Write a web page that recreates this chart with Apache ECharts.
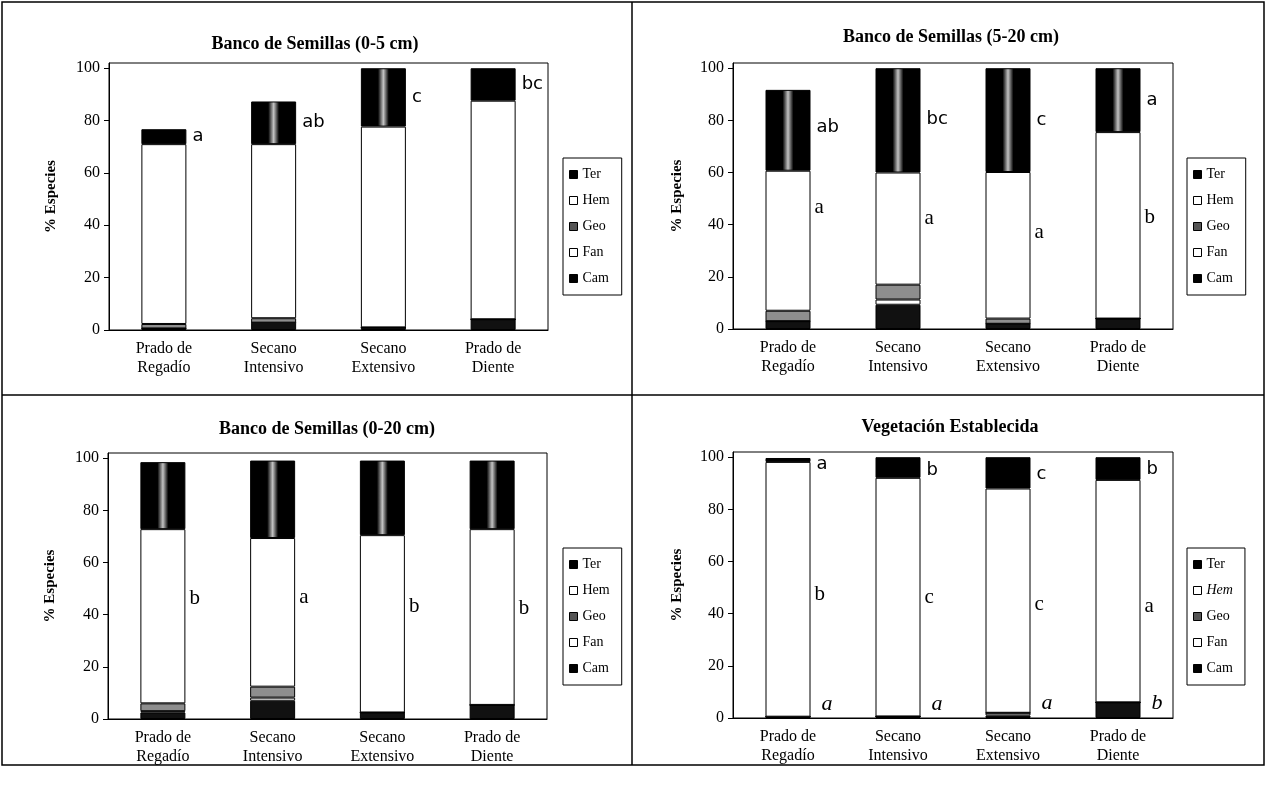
<!DOCTYPE html>
<html>
<head>
<meta charset="utf-8">
<script src="https://cdn.jsdelivr.net/npm/echarts@6.0.0/dist/echarts.min.js"></script>
<style>
html, body { margin: 0; padding: 0; background: #fff; }
#chart { width: 1266px; height: 786px; }
</style>
</head>
<body>
<div id="chart"></div>
<script>
// categorias y ejes
const categories = ['Prado de\nRegadío', 'Secano\nIntensivo', 'Secano\nExtensivo', 'Prado de\nDiente'];
const yTicks = [0, 20, 40, 60, 80, 100];
const lifeForms = ['Cam', 'Fan', 'Geo', 'Hem', 'Ter'];      // orden de apilado, de abajo arriba
const legendNames = ['Ter', 'Hem', 'Geo', 'Fan', 'Cam'];
const panelTitles = ['Banco de Semillas (0-5 cm)', 'Banco de Semillas (5-20 cm)',
                     'Banco de Semillas (0-20 cm)', 'Vegetación Establecida'];

// Banco de semillas 0-5 cm
const cam05 = [0.6, 2.8, 1.0, 4.1];
const fan05 = [0, 0, 0, 0];
const geo05 = [1.7, 1.7, 0, 0];
const hem05 = [68.7, 66.5, 76.7, 83.5];
const ter05 = [5.7, 16.3, 22.3, 12.4];

// Banco de semillas 5-20 cm
const cam520 = [3.0, 9.3, 2.0, 4.0];
const fan520 = [0, 2.0, 0, 0];
const geo520 = [4.0, 5.7, 2.0, 0];
const hem520 = [53.7, 43.0, 56.2, 71.5];
const ter520 = [31.0, 40.0, 39.8, 24.5];

// Banco de semillas 0-20 cm
const cam020 = [2.5, 7.0, 2.5, 5.4];
const fan020 = [0.5, 1.2, 0, 0];
const geo020 = [3.0, 4.2, 0, 0];
const hem020 = [66.8, 57.0, 68.0, 67.4];
const ter020 = [25.7, 29.7, 28.6, 26.3];

// Vegetacion establecida
const camVeg = [0.5, 0.6, 1.0, 6.0];
const fanVeg = [0, 0, 1.0, 0];
const geoVeg = [0, 0, 0, 0];
const hemVeg = [97.7, 91.5, 86.0, 85.3];
const terVeg = [1.5, 7.9, 12.0, 8.7];

// letras de significacion
const terLetters05 = ['a', 'ab', 'c', 'bc'];
const terLetters520 = ['ab', 'bc', 'c', 'a'];
const hemLetters520 = ['a', 'a', 'a', 'b'];
const hemLetters020 = ['b', 'a', 'b', 'b'];
const terLettersVeg = ['a', 'b', 'c', 'b'];
const hemLettersVeg = ['b', 'c', 'c', 'a'];
const camLettersVeg = ['a', 'a', 'a', 'b'];

const panelData = [
  { Cam: cam05, Fan: fan05, Geo: geo05, Hem: hem05, Ter: ter05 },
  { Cam: cam520, Fan: fan520, Geo: geo520, Hem: hem520, Ter: ter520 },
  { Cam: cam020, Fan: fan020, Geo: geo020, Hem: hem020, Ter: ter020 },
  { Cam: camVeg, Fan: fanVeg, Geo: geoVeg, Hem: hemVeg, Ter: terVeg }
];
const panelLetters = [
  { Ter: terLetters05 },
  { Ter: terLetters520, Hem: hemLetters520 },
  { Hem: hemLetters020 },
  { Ter: terLettersVeg, Hem: hemLettersVeg, Cam: camLettersVeg }
];

// disposicion de cada panel (shift = ajuste vertical de las letras, px)
const layout = [
  { grid: { left: 109, top: 63, width: 439, height: 267 }, title: [310, 30], legend: [563, 158], nameGap: 50,
    shift: { Ter: 0 } },
  { grid: { left: 733, top: 63, width: 440, height: 266 }, title: [946, 23], legend: [1187, 158], nameGap: 48,
    shift: { Ter: [-3, -1, 0, 0], Hem: [-33, -10, -13, -8] } },
  { grid: { left: 108, top: 453, width: 439, height: 266 }, title: [322, 415], legend: [563, 548], nameGap: 50,
    shift: { Hem: [-18, -15, -17, -9] } },
  { grid: { left: 733, top: 452, width: 440, height: 266 }, title: [945, 413], legend: [1187, 548], nameGap: 48,
    shift: { Ter: [4, 3, 1, 1], Hem: [5, 0, 4, 15], Cam: [-13, -13, -13, -7] } }
];

const serif = 'Liberation Serif, Times New Roman, serif';
const fills = { Cam: '#111', Fan: '#fff', Geo: '#8e8e8e', Hem: '#fff', Ter: '#000' };
const legendFills = { Ter: '#000', Hem: '#fff', Geo: '#555', Fan: '#fff', Cam: '#000' };
const terStreak = {
  type: 'linear', x: 0, y: 0, x2: 1, y2: 0,
  colorStops: [
    { offset: 0, color: '#000' }, { offset: 0.38, color: '#000' },
    { offset: 0.5, color: '#c4c4c4' },
    { offset: 0.62, color: '#000' }, { offset: 1, color: '#000' }
  ]
};
const letterStyle = {
  Ter: { fontFamily: 'DejaVu Sans', fontSize: 18, distance: 6 },
  Hem: { fontFamily: serif, fontSize: 21, distance: 4 },
  Cam: { fontFamily: serif, fontSize: 22, fontStyle: 'italic', distance: 11 }
};

function shiftOf (p, name, j) {
  const s = p.shift[name];
  if (Array.isArray(s)) return s[j];
  return s || 0;
}

const grids = [], xAxes = [], yAxes = [], titles = [], legends = [], series = [];

layout.forEach((p, i) => {
  grids.push(Object.assign({ show: true, borderColor: '#000', borderWidth: 1, backgroundColor: '#fff' }, p.grid));
  titles.push({
    text: panelTitles[i], left: p.title[0], top: p.title[1], textAlign: 'center',
    textStyle: { fontFamily: serif, fontSize: 18, fontWeight: 'bold', color: '#000' }
  });
  xAxes.push({
    type: 'category', gridIndex: i, data: categories,
    axisLine: { lineStyle: { color: '#000', width: 1 } },
    axisTick: { length: 5, lineStyle: { color: '#000' } },
    axisLabel: { interval: 0, color: '#000', fontFamily: serif, fontSize: 16, lineHeight: 19, margin: 9 }
  });
  yAxes.push({
    type: 'value', gridIndex: i, min: 0, max: 102,
    name: '% Especies', nameLocation: 'middle', nameRotate: 90, nameGap: p.nameGap,
    nameTextStyle: { fontFamily: serif, fontSize: 15, fontWeight: 'bold', color: '#000' },
    axisLine: { show: true, lineStyle: { color: '#000', width: 1 } },
    axisTick: { show: true, length: 5, customValues: yTicks, lineStyle: { color: '#000' } },
    axisLabel: { customValues: yTicks, color: '#000', fontFamily: serif, fontSize: 16, margin: 9 },
    splitLine: { show: false }
  });
  legends.push({
    orient: 'vertical', left: p.legend[0], top: p.legend[1],
    icon: 'rect', itemWidth: 8, itemHeight: 8, itemGap: 1,
    borderColor: '#000', borderWidth: 1, padding: [4, 12, 4, 6],
    selectedMode: false,
    textStyle: { fontFamily: serif, fontSize: 14, color: '#000', lineHeight: 14, padding: [0, 0, 11, 0] },
    data: legendNames.map(n => ({
      name: n,
      itemStyle: { color: legendFills[n], borderColor: '#000', borderWidth: 1 },
      textStyle: (i === 3 && n === 'Hem') ? { fontStyle: 'italic' } : {}
    }))
  });

  lifeForms.forEach(name => {
    const vals = panelData[i][name];
    const marks = panelLetters[i][name] || [];
    series.push({
      name: name, type: 'bar', stack: 'p' + i, xAxisIndex: i, yAxisIndex: i, barWidth: 45,
      itemStyle: { color: fills[name], borderColor: '#000', borderWidth: 1 },
      emphasis: { disabled: true },
      data: vals.map((v, j) => {
        const item = { value: v };
        if (name === 'Ter' && v >= 15) item.itemStyle = { color: terStreak };
        if (marks[j]) {
          const s = letterStyle[name];
          item.label = {
            show: true, position: 'right', formatter: marks[j], color: '#000',
            distance: s.distance, fontFamily: s.fontFamily, fontSize: s.fontSize,
            fontStyle: s.fontStyle || 'normal',
            offset: [0, shiftOf(p, name, j)]
          };
        }
        return item;
      })
    });
  });
});

const chart = echarts.init(document.getElementById('chart'));
chart.setOption({
  backgroundColor: '#fff',
  animation: false,
  title: titles,
  legend: legends,
  grid: grids,
  xAxis: xAxes,
  yAxis: yAxes,
  series: series,
  graphic: [
    { type: 'rect', shape: { x: 2, y: 2, width: 1262, height: 763 }, style: { fill: 'none', stroke: '#000', lineWidth: 1.5 }, silent: true },
    { type: 'line', shape: { x1: 632, y1: 2, x2: 632, y2: 765 }, style: { stroke: '#000', lineWidth: 1.5 }, silent: true },
    { type: 'line', shape: { x1: 2, y1: 395, x2: 1264, y2: 395 }, style: { stroke: '#000', lineWidth: 1.5 }, silent: true }
  ]
});
</script>
</body>
</html>
